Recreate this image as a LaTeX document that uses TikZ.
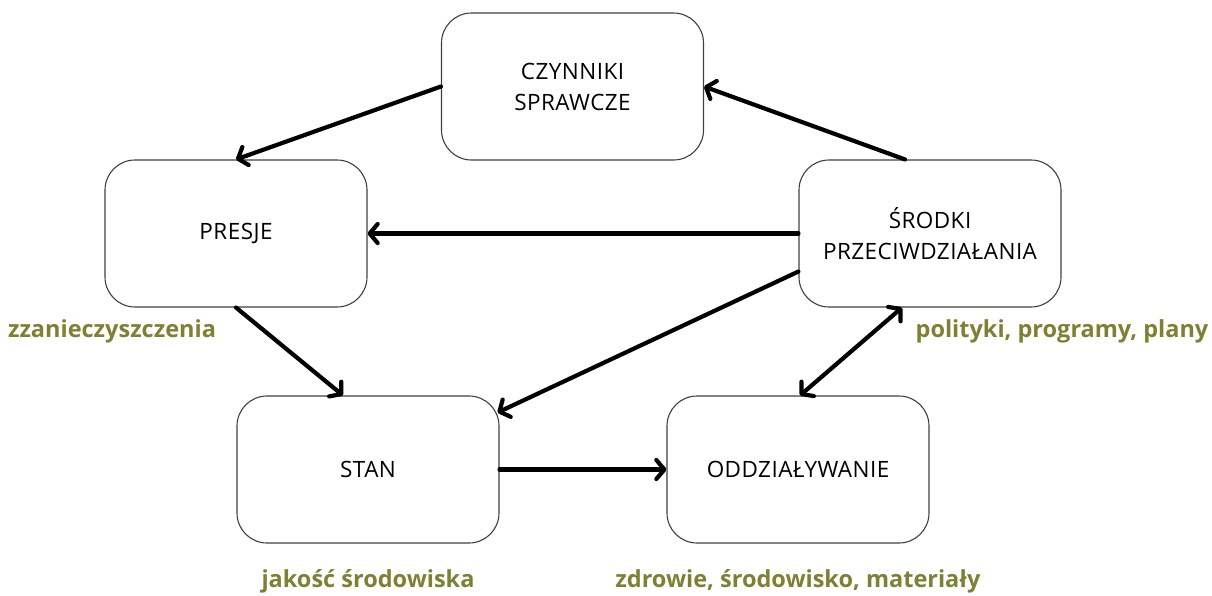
\documentclass[tikz,border=0pt]{standalone}
\usepackage{fontspec}
\setmainfont{Open Sans}
\usetikzlibrary{arrows.meta}
\definecolor{olive}{HTML}{7F8035}
\begin{document}
\begin{tikzpicture}[x=1pt,y=-1pt,
  box/.style={draw=black!75,line width=1.1pt,rounded corners=30pt,minimum width=262pt,minimum height=147pt,align=center,font=\fontsize{22.5}{31}\selectfont\addfontfeature{LetterSpace=2},inner sep=0pt},
  conn/.style={line width=4.2pt,line cap=round,-{Straight Barb[length=8pt,width=19pt,line width=4.2pt,round]}},
  conn2/.style={line width=4.2pt,line cap=round,{Straight Barb[length=8pt,width=19pt,line width=4.2pt,round]}-{Straight Barb[length=8pt,width=19pt,line width=4.2pt,round]}},
  lab/.style={text=olive,font=\fontsize{23.5}{28}\selectfont\bfseries,inner sep=0pt}]
\useasboundingbox (0,0) rectangle (1212,595);
\node[box] (czy) at (572.5,86.5) {CZYNNIKI\\SPRAWCZE};
\node[box] (pre) at (236,233.5) {PRESJE};
\node[box] (sro) at (930,233.5) {ŚRODKI\\PRZECIWDZIAŁANIA};
\node[box] (stan) at (368,469.5) {STAN};
\node[box] (odd) at (798,469.5) {ODDZIAŁYWANIE};
\node[lab] (l1) at (112,331) {zzanieczyszczenia};
\node[lab] (l2) at (1062,331) {polityki, programy, plany};
\node[lab] (l3) at (368,581) {jakość środowiska};
\node[lab] (l4) at (798,581) {zdrowie, środowisko, materiały};
\draw[conn] (czy.west) -- (pre.north);
\draw[conn] ([xshift=-25pt]sro.north) -- (czy.east);
\draw[conn] (sro.west) -- (pre.east);
\draw[conn] (pre.south) -- ([xshift=-25pt]stan.north);
\draw[conn] ([yshift=-38pt]sro.west) -- ([xshift=-2pt,yshift=57pt]stan.east);
\draw[conn2] ([xshift=-28pt]sro.south) -- ([xshift=2pt]odd.north);
\draw[conn] (stan.east) -- (odd.west);
\end{tikzpicture}
\end{document}
